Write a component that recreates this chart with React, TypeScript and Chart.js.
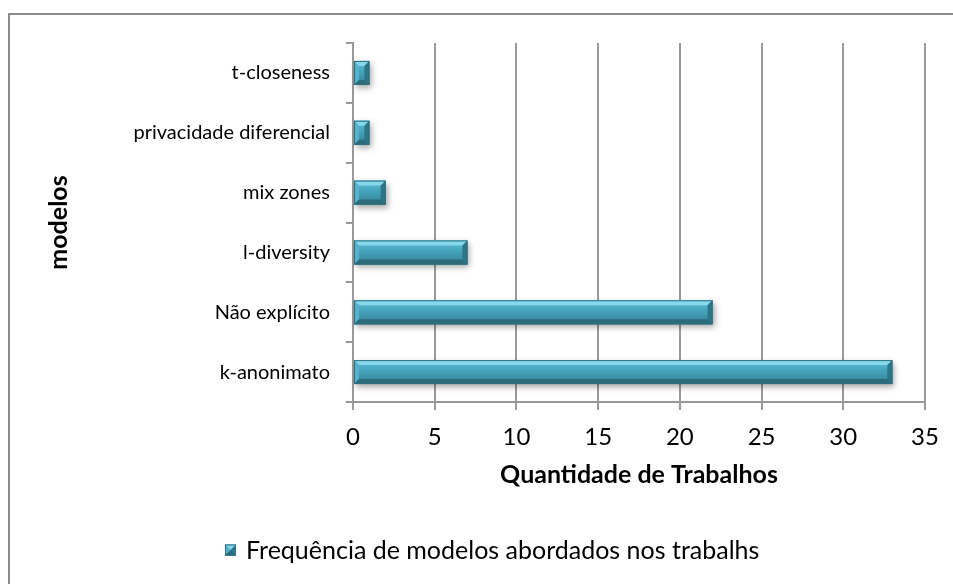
import React, { useEffect, useRef } from "react";
import { Chart, registerables } from "chart.js";

Chart.register(...registerables);

const categories = [
  "t-closeness",
  "privacidade diferencial",
  "mix zones",
  "l-diversity",
  "Não explícito",
  "k-anonimato",
];
const values = [1, 1, 2, 7, 22, 33];
const seriesLabel = "Frequência de modelos abordados nos trabalhs";
const xTitle = "Quantidade de Trabalhos";
const yTitle = "modelos";
const xMax = 35;
const xStep = 5;

const FONT = "Lato, 'Open Sans', sans-serif";
const FS = 24;
const FS_T = 25;
const FS_Y = 20;
const GRID = "#9a9a9a";

function bevelRect(ctx: CanvasRenderingContext2D, l: number, t: number, r: number, b: number, shadow: boolean) {
  const w = r - l;
  const h = b - t;
  if (w <= 0 || h <= 0) return;
  ctx.save();
  if (shadow) {
    ctx.shadowColor = "rgba(0,0,0,0.35)";
    ctx.shadowBlur = 6;
    ctx.shadowOffsetX = 2;
    ctx.shadowOffsetY = 3;
  }
  ctx.fillStyle = "#3f9cb4";
  ctx.fillRect(l, t, w, h);
  ctx.restore();

  ctx.save();
  const g = ctx.createLinearGradient(0, t, 0, b);
  g.addColorStop(0, "#5fc0d8");
  g.addColorStop(0.45, "#44a3bc");
  g.addColorStop(1, "#347f93");
  ctx.fillStyle = g;
  ctx.fillRect(l, t, w, h);
  const e = Math.min(5, w / 2, h / 2);
  const poly = (pts: number[][], color: string) => {
    ctx.beginPath();
    ctx.moveTo(pts[0][0], pts[0][1]);
    for (let i = 1; i < pts.length; i++) ctx.lineTo(pts[i][0], pts[i][1]);
    ctx.closePath();
    ctx.fillStyle = color;
    ctx.fill();
  };
  poly([[l, t], [r, t], [r - e, t + e], [l + e, t + e]], "#86d8ec");
  poly([[l, t], [l + e, t + e], [l + e, b - e], [l, b]], "#55b2c9");
  poly([[r, t], [r, b], [r - e, b - e], [r - e, t + e]], "#2e7587");
  poly([[l, b], [l + e, b - e], [r - e, b - e], [r, b]], "#2b6b7b");
  ctx.strokeStyle = "#2d6f7f";
  ctx.lineWidth = 1;
  ctx.strokeRect(l + 0.5, t + 0.5, w - 1, h - 1);
  ctx.restore();
}

const decorPlugin = {
  id: "decor",
  beforeDraw(chart: any) {
    const ctx = chart.ctx as CanvasRenderingContext2D;
    ctx.save();
    ctx.fillStyle = "#ffffff";
    ctx.fillRect(0, 0, chart.width, chart.height);
    ctx.strokeStyle = "#8a8a8a";
    ctx.lineWidth = 2;
    ctx.beginPath();
    ctx.moveTo(9, chart.height);
    ctx.lineTo(9, 14);
    ctx.lineTo(chart.width, 14);
    ctx.stroke();
    ctx.restore();
  },
  afterDatasetsDraw(chart: any) {
    const ctx = chart.ctx as CanvasRenderingContext2D;
    const meta = chart.getDatasetMeta(0);
    meta.data.forEach((el: any) => {
      const p = el.getProps(["x", "y", "base", "height"], true);
      const l = Math.min(p.base, p.x);
      const r = Math.max(p.base, p.x);
      bevelRect(ctx, l, p.y - p.height / 2, r, p.y + p.height / 2, true);
    });
  },
  afterDraw(chart: any) {
    const ctx = chart.ctx as CanvasRenderingContext2D;
    const label = chart.data.datasets[0].label as string;
    ctx.save();
    ctx.font = `${FS_T}px ${FONT}`;
    const box = 11;
    const x0 = 225;
    const cy = 550;
    bevelRect(ctx, x0, cy - box / 2, x0 + box, cy + box / 2, false);
    ctx.fillStyle = "#000000";
    ctx.textBaseline = "middle";
    ctx.textAlign = "left";
    ctx.fillText(label, x0 + box + 10, cy + 1);
    ctx.restore();
  },
};

export default function App() {
  const ref = useRef<HTMLCanvasElement | null>(null);
  useEffect(() => {
    if (!ref.current) return;
    const chart = new Chart(ref.current, {
      type: "bar",
      data: {
        labels: categories,
        datasets: [
          {
            label: seriesLabel,
            data: values,
            backgroundColor: "#3f9cb4",
            barPercentage: 0.4,
            categoryPercentage: 1,
          },
        ],
      },
      options: {
        indexAxis: "y",
        animation: false,
        responsive: false,
        devicePixelRatio: 1,
        layout: { padding: { left: 0, top: 43, right: 28, bottom: 82 } },
        plugins: {
          legend: { display: false },
          tooltip: { enabled: false },
        },
        scales: {
          x: {
            min: 0,
            max: xMax,
            ticks: {
              stepSize: xStep,
              color: "#000",
              font: { family: FONT, size: FS },
              padding: 13,
              maxRotation: 0,
            },
            grid: { color: GRID, lineWidth: 2, tickLength: 8, drawTicks: true },
            border: { color: GRID, width: 2 },
            title: {
              display: true,
              text: xTitle,
              color: "#000",
              font: { family: FONT, size: FS_T, weight: "bold" },
              padding: { top: 0, bottom: 12 },
            },
            afterFit: (s: any) => {
              s.height = 100;
            },
          },
          y: {
            ticks: {
              color: "#000",
              font: { family: FONT, size: FS_Y },
              padding: 16,
            },
            grid: {
              color: GRID,
              lineWidth: 2,
              tickLength: 7,
              drawOnChartArea: false,
              drawTicks: true,
              offset: true,
            },
            border: { color: GRID, width: 2 },
            title: {
              display: true,
              text: yTitle,
              color: "#000",
              font: { family: FONT, size: FS_T, weight: "bold" },
              padding: { top: 44, bottom: 0 },
            },
            afterFit: (s: any) => {
              s.width = 353;
            },
          },
        },
      },
      plugins: [decorPlugin],
    } as any);
    return () => chart.destroy();
  }, []);
  return (
    <canvas
      ref={ref}
      width={953}
      height={584}
      style={{ position: "fixed", left: 0, top: 0, width: 953, height: 584 }}
    />
  );
}
